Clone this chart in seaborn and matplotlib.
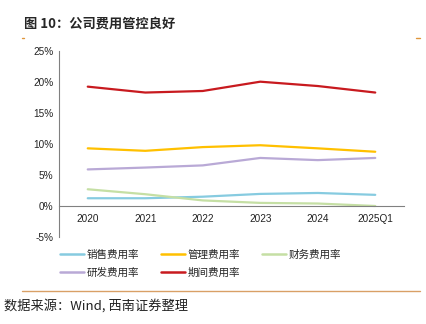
import matplotlib
matplotlib.use("Agg")
import matplotlib.pyplot as plt
import matplotlib.ticker as mticker
from matplotlib.lines import Line2D
import seaborn as sns
import pandas as pd
import numpy as np

categories = ["2020", "2021", "2022", "2023", "2024", "2025Q1"]
series_names = ["销售费用率", "管理费用率", "财务费用率", "研发费用率", "期间费用率"]
sales = [1.25, 1.25, 1.5, 1.95, 2.1, 1.8]
admin = [9.3, 8.9, 9.5, 9.8, 9.3, 8.75]
finance = [2.7, 1.9, 0.9, 0.5, 0.4, 0.0]
rnd = [5.9, 6.2, 6.55, 7.75, 7.4, 7.75]
period = [19.25, 18.3, 18.55, 20.05, 19.35, 18.3]
colors = ["#86CBE0", "#FFC000", "#C5DFA4", "#B9A9D6", "#C81A1F"]
yticks = [-5, 0, 5, 10, 15, 20, 25]

sns.set_theme(style="white")
plt.rcParams["font.family"] = ["Liberation Sans", "Noto Sans CJK SC", "DejaVu Sans"]

rows = []
for name, vals in zip(series_names, [sales, admin, finance, rnd, period]):
    for i, v in enumerate(vals):
        rows.append({"x": i, "cat": categories[i], "value": v, "series": name})
df = pd.DataFrame(rows)

fig = plt.figure(figsize=(4.26, 3.24), dpi=100)
ax = fig.add_axes([59/426, 1-237/324, (404-59)/426, (237-51)/324])

sns.lineplot(data=df, x="x", y="value", hue="series", hue_order=series_names,
             palette=colors, linewidth=1.6, ax=ax, legend=False, sort=False)

ax.set_xlim(-0.5, len(categories) - 0.5)
ax.set_ylim(-5, 25)
ax.set_yticks(yticks)
ax.yaxis.set_major_formatter(mticker.FuncFormatter(lambda v, p: f"{int(v)}%"))
ax.set_xlabel("")
ax.set_ylabel("")

for s in ["top", "right"]:
    ax.spines[s].set_visible(False)
ax.spines["left"].set_color("#808080")
ax.spines["left"].set_linewidth(0.8)
ax.spines["bottom"].set_position(("data", 0))
ax.spines["bottom"].set_color("#808080")
ax.spines["bottom"].set_linewidth(0.8)

ax.set_xticks(range(len(categories)))
ax.set_xticklabels(categories)
ax.set_xticks(np.arange(-0.5, len(categories), 1.0), minor=True)
ax.tick_params(axis="x", which="major", length=0, pad=6, labelsize=7.2, colors="#222222")
ax.tick_params(axis="x", which="minor", length=3, direction="in", color="#808080", width=0.8)
ax.tick_params(axis="y", which="major", length=3, direction="in", color="#808080",
               width=0.8, labelsize=7.2, pad=4)
for lab in ax.get_yticklabels():
    lab.set_color("#222222")
ax.grid(False)

handles = [Line2D([0], [0], color=c, lw=1.8) for c in colors]
order = [0, 3, 1, 4, 2]
fig.legend([handles[i] for i in order], [series_names[i] for i in order],
           loc="upper left", bbox_to_anchor=(50/426, 1-240/324),
           ncol=3, frameon=False, handlelength=2.3, handletextpad=0.3,
           columnspacing=2.0, labelspacing=0.75,
           prop={"family": ["Noto Sans CJK SC"], "size": 7.6})

fig.text(24/426, 1-24/324, "图 10：公司费用管控良好", fontsize=9.5, fontweight="bold",
         family=["Noto Sans CJK SC"], va="center", ha="left")
fig.add_artist(Line2D([22/426, 23.5/426], [1-38/324, 1-38/324], color="#E0963C", lw=1))
fig.add_artist(Line2D([416/426, 420/426], [1-38/324, 1-38/324], color="#E0963C", lw=1))
fig.add_artist(Line2D([22/426, 420/426], [1-291/324, 1-291/324], color="#D9A066", lw=1))
fig.text(4/426, 1-306/324, "数据来源：Wind, 西南证券整理", fontsize=9.5, style="italic",
         family=["Noto Sans CJK SC", "DejaVu Sans"], va="center", ha="left", color="#222222")

fig.savefig("out.png", dpi=100, facecolor="white")
